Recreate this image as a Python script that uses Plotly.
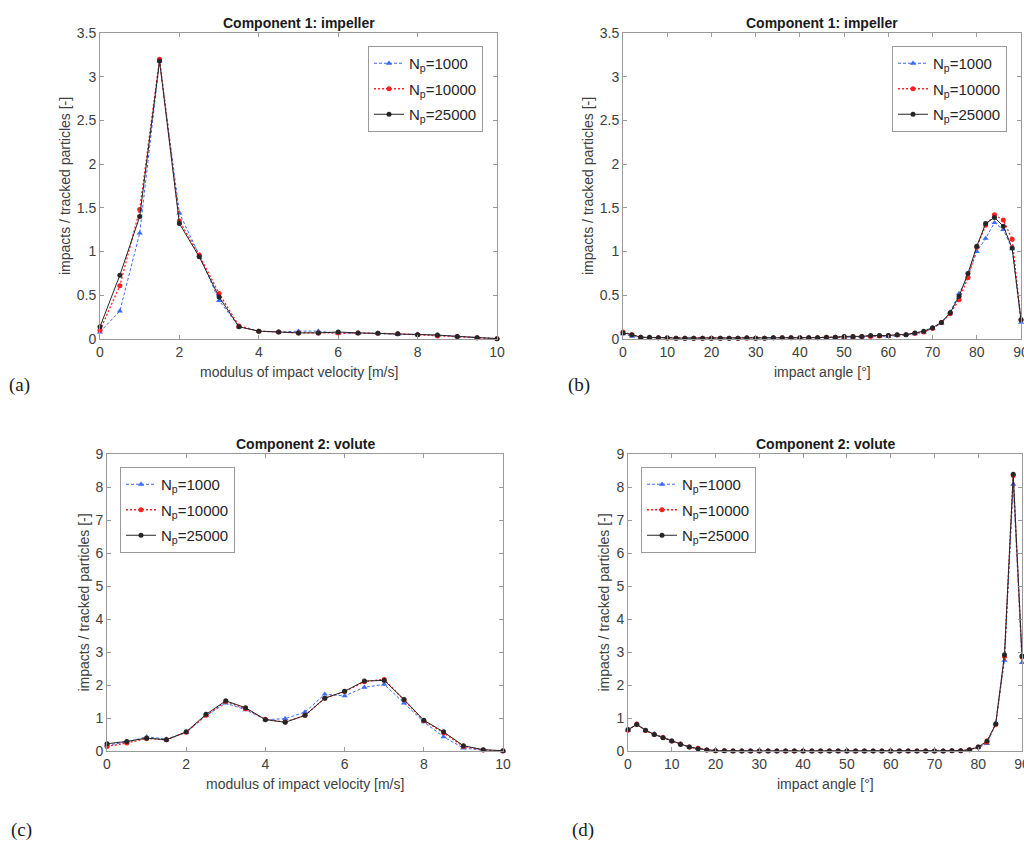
import plotly.graph_objects as go

W, H = 1024, 845

# ---------------- data ----------------
vel = [0, 0.5, 1, 1.5, 2, 2.5, 3, 3.5, 4, 4.5, 5, 5.5, 6, 6.5, 7, 7.5, 8, 8.5, 9, 9.5, 10]
ang = list(range(0, 91, 2))

a_1000 = [0.08, 0.32, 1.21, 3.18, 1.44, 0.96, 0.44, 0.14, 0.09, 0.08, 0.09, 0.09, 0.065, 0.065, 0.065, 0.05, 0.055, 0.045, 0.03, 0.015, 0.004]
a_10000 = [0.10, 0.61, 1.48, 3.20, 1.35, 0.96, 0.52, 0.15, 0.09, 0.08, 0.07, 0.07, 0.07, 0.07, 0.065, 0.06, 0.05, 0.035, 0.03, 0.015, 0.004]
a_25000 = [0.14, 0.73, 1.40, 3.18, 1.32, 0.94, 0.48, 0.14, 0.09, 0.08, 0.07, 0.07, 0.08, 0.07, 0.065, 0.06, 0.05, 0.045, 0.03, 0.015, 0.004]

b_1000 = [0.06, 0.03, 0.02, 0.02, 0.015, 0.01, 0.01, 0.01, 0.01, 0.01, 0.01, 0.01, 0.01, 0.01, 0.015, 0.01, 0.01, 0.015, 0.01, 0.015, 0.015,
          0.02, 0.015, 0.015, 0.02, 0.02, 0.02, 0.025, 0.03, 0.03, 0.03, 0.04, 0.05, 0.06, 0.08, 0.12, 0.18, 0.31, 0.52, 0.72, 1.00,
          1.15, 1.33, 1.25, 1.03, 0.19]
b_10000 = [0.08, 0.05, 0.02, 0.015, 0.015, 0.01, 0.01, 0.01, 0.01, 0.01, 0.01, 0.01, 0.01, 0.01, 0.01, 0.01, 0.01, 0.015, 0.015, 0.015, 0.015,
           0.015, 0.015, 0.02, 0.02, 0.02, 0.025, 0.03, 0.03, 0.035, 0.04, 0.045, 0.05, 0.065, 0.08, 0.12, 0.19, 0.29, 0.45, 0.70, 1.05,
           1.30, 1.42, 1.36, 1.14, 0.22]
b_25000 = [0.07, 0.05, 0.02, 0.02, 0.015, 0.015, 0.01, 0.01, 0.01, 0.01, 0.01, 0.01, 0.01, 0.01, 0.015, 0.01, 0.01, 0.015, 0.015, 0.015, 0.015,
           0.015, 0.015, 0.02, 0.02, 0.03, 0.03, 0.03, 0.04, 0.04, 0.04, 0.05, 0.05, 0.07, 0.09, 0.13, 0.19, 0.30, 0.49, 0.75, 1.06,
           1.32, 1.39, 1.29, 1.04, 0.22]

c_1000 = [0.18, 0.27, 0.43, 0.36, 0.56, 1.07, 1.45, 1.25, 0.95, 0.98, 1.18, 1.72, 1.67, 1.93, 2.02, 1.45, 0.88, 0.43, 0.09, 0.02, 0.0]
c_10000 = [0.14, 0.24, 0.38, 0.34, 0.57, 1.08, 1.50, 1.28, 0.96, 0.88, 1.08, 1.60, 1.80, 2.10, 2.17, 1.55, 0.92, 0.55, 0.14, 0.03, 0.0]
c_25000 = [0.22, 0.29, 0.39, 0.34, 0.58, 1.11, 1.52, 1.31, 0.95, 0.87, 1.08, 1.60, 1.81, 2.12, 2.14, 1.56, 0.93, 0.58, 0.16, 0.04, 0.01]

d_1000 = [0.62, 0.82, 0.62, 0.52, 0.42, 0.30, 0.22, 0.12, 0.07, 0.03, 0.01, 0.005, 0.0, 0.0, 0.0, 0.0, 0.0, 0.0, 0.0, 0.0, 0.0,
          0.0, 0.0, 0.0, 0.0, 0.0, 0.0, 0.0, 0.0, 0.0, 0.0, 0.0, 0.0, 0.0, 0.0, 0.0, 0.0, 0.005, 0.01, 0.04, 0.10,
          0.22, 0.85, 2.75, 8.08, 2.68]
d_10000 = [0.63, 0.82, 0.62, 0.50, 0.41, 0.30, 0.21, 0.12, 0.08, 0.03, 0.01, 0.005, 0.0, 0.0, 0.0, 0.0, 0.0, 0.0, 0.0, 0.0, 0.0,
           0.0, 0.0, 0.0, 0.0, 0.0, 0.0, 0.0, 0.0, 0.0, 0.0, 0.0, 0.0, 0.0, 0.0, 0.0, 0.0, 0.005, 0.01, 0.04, 0.12,
           0.27, 0.80, 2.86, 8.35, 2.85]
d_25000 = [0.65, 0.80, 0.63, 0.50, 0.40, 0.30, 0.20, 0.12, 0.07, 0.03, 0.01, 0.005, 0.0, 0.0, 0.0, 0.0, 0.0, 0.0, 0.0, 0.0, 0.0,
           0.0, 0.0, 0.0, 0.0, 0.0, 0.0, 0.0, 0.0, 0.0, 0.0, 0.0, 0.0, 0.0, 0.0, 0.0, 0.0, 0.005, 0.01, 0.04, 0.12,
           0.30, 0.82, 2.92, 8.39, 2.88]

names = ["N<sub>p</sub>=1000", "N<sub>p</sub>=10000", "N<sub>p</sub>=25000"]
titles = ["Component 1: impeller", "Component 1: impeller", "Component 2: volute", "Component 2: volute"]
xlabels = ["modulus of impact velocity [m/s]", "impact angle [°]",
           "modulus of impact velocity [m/s]", "impact angle [°]"]
ylabel = "impacts / tracked particles [-]"
panel_labels = ["(a)", "(b)", "(c)", "(d)"]

# ---------------- layout geometry (pixels) ----------------
def px(x):
    return x / W

def py(y):
    return 1 - y / H

boxes = [  # left, right, top, bottom
    (100, 497, 33, 339),
    (623, 1021, 33, 339),
    (107, 503, 454, 751),
    (628, 1022, 454, 751),
]

panels = [
    (vel, a_1000, a_10000, a_25000, [0, 10], 2, [0, 3.5], 0.5),
    (ang, b_1000, b_10000, b_25000, [0, 90], 10, [0, 3.5], 0.5),
    (vel, c_1000, c_10000, c_25000, [0, 10], 2, [0, 9], 1),
    (ang, d_1000, d_10000, d_25000, [0, 90], 10, [0, 9], 1),
]

styles = [
    dict(color="#3a6cf4", dash="3px,2px", width=1, symbol="triangle-up", msize=5.5),
    dict(color="#ff2020", dash="2px,2px", width=1.3, symbol="circle", msize=5),
    dict(color="#262626", dash="solid", width=1, symbol="circle", msize=5),
]

legend_pos = [(368, 46), (892, 46), (120, 467), (641, 467)]

FONT = "Liberation Sans, Arial, sans-serif"
fig = go.Figure()
layout = dict(
    template="none",
    width=W, height=H, autosize=False,
    margin=dict(l=0, r=0, t=0, b=0, pad=0, autoexpand=False),
    paper_bgcolor="white", plot_bgcolor="white",
    font=dict(family=FONT, color="#404040", size=14),
    annotations=[],
)

axis_common = dict(
    showline=True, linecolor="#9a9a9a", linewidth=1, mirror="ticks",
    ticks="inside", ticklen=4, tickcolor="#9a9a9a", tickwidth=1,
    showgrid=False, zeroline=False, automargin=False,
    ticklabeloverflow="allow",
    tickfont=dict(size=14, color="#404040", family=FONT),
)

for i, (xs, s1, s2, s3, xr, xd, yr, yd) in enumerate(panels):
    k = "" if i == 0 else str(i + 1)
    l, r, t, b = boxes[i]
    layout["xaxis" + k] = dict(axis_common, domain=[px(l), px(r)], range=xr, dtick=xd,
                              anchor="y" + k, tick0=0)
    layout["yaxis" + k] = dict(axis_common, domain=[py(b), py(t)], range=yr, dtick=yd,
                              anchor="x" + k, tick0=0)
    lg = "legend" if i == 0 else "legend" + str(i + 1)
    lx, ly = legend_pos[i]
    layout[lg] = dict(
        x=px(lx), y=py(ly), xanchor="left", yanchor="top",
        bgcolor="white", bordercolor="#9a9a9a", borderwidth=1,
        font=dict(size=15, color="#262626", family=FONT),
        tracegroupgap=3, itemwidth=30,
    )
    for j, series in enumerate([s1, s2, s3]):
        st = styles[j]
        fig.add_trace(go.Scatter(
            x=xs, y=series, mode="lines+markers", name=names[j],
            xaxis="x" + k, yaxis="y" + k, legend=lg, legendgroup=f"g{i}{j}",
            cliponaxis=False,
            line=dict(color=st["color"], dash=st["dash"], width=st["width"]),
            marker=dict(color=st["color"], symbol=st["symbol"], size=st["msize"]),
        ))
    cx = (l + r) / 2
    layout["annotations"].append(dict(
        x=px(cx), y=py(t - 10), xref="paper", yref="paper", text="<b>" + titles[i] + "</b>",
        showarrow=False, font=dict(size=14, color="#1a1a1a", family=FONT),
        xanchor="center", yanchor="middle"))
    layout["annotations"].append(dict(
        x=px(cx), y=py(b + 33), xref="paper", yref="paper", text=xlabels[i],
        showarrow=False, font=dict(size=14, color="#404040", family=FONT),
        xanchor="center", yanchor="middle"))

ylab_x = [65, 588, 83, 603]
for i in range(4):
    l, r, t, b = boxes[i]
    layout["annotations"].append(dict(
        x=px(ylab_x[i]), y=py((t + b) / 2), xref="paper", yref="paper", text=ylabel,
        showarrow=False, textangle=-90, font=dict(size=14, color="#404040", family=FONT),
        xanchor="center", yanchor="middle"))

plab = [(7, 385), (566, 385), (9, 830), (570, 830)]
for i, (x, y) in enumerate(plab):
    layout["annotations"].append(dict(
        x=px(x), y=py(y), xref="paper", yref="paper", text=panel_labels[i],
        showarrow=False, font=dict(size=19, color="#1a1a1a", family="Liberation Serif, Times New Roman, serif"),
        xanchor="left", yanchor="middle"))

fig.update_layout(**layout)
fig.write_html(
    "out.html",
    config={"displayModeBar": False, "responsive": False},
    post_script="document.body.style.margin='0';document.body.style.overflow='hidden';",
)
